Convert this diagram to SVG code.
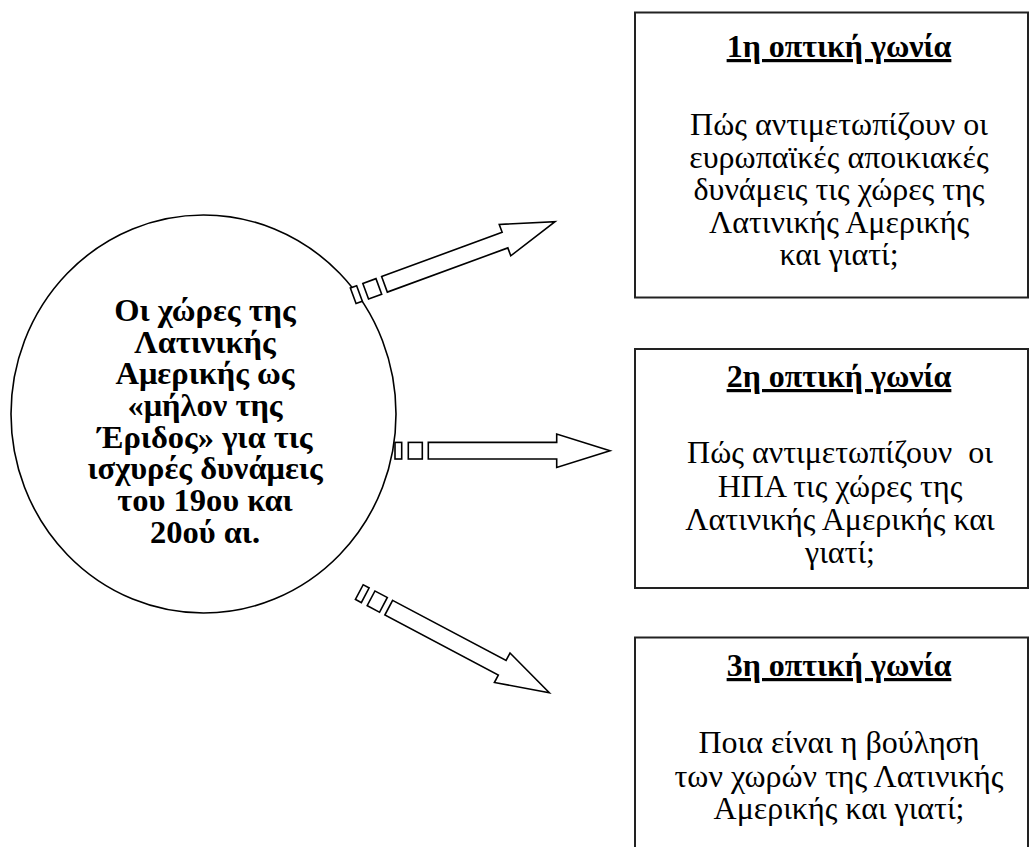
<svg xmlns="http://www.w3.org/2000/svg" width="1030" height="847" viewBox="0 0 1030 847">
<style>
.bg{fill:#fff}
.shape{fill:#fff;stroke:#000;stroke-width:1.6}
.box{fill:#fff;stroke:#222;stroke-width:2}
.t{font-family:"Liberation Serif","Times New Roman",serif;font-size:32px;fill:#000;text-anchor:middle}
.c{font-size:32.5px}
.b{font-weight:bold}
.u{text-decoration:underline}
</style>
<defs>
<g id="striped">
<rect class="shape" x="0" y="-8.3" width="6.7" height="16.6"/>
<rect class="shape" x="13.3" y="-8.3" width="14" height="16.6"/>
<path class="shape" d="M33.3,-8.3 L161.7,-8.3 L161.7,-16.7 L215,0 L161.7,16.7 L161.7,8.3 L33.3,8.3 Z"/>
</g>
</defs>
<rect class="bg" x="0" y="0" width="1030" height="847"/>
<g id="center">
<ellipse class="shape" cx="203.5" cy="414" rx="192.5" ry="199"/>
<text class="t c b"><tspan x="205" y="321">Οι χώρες της</tspan><tspan x="205" y="353">Λατινικής</tspan><tspan x="205" y="384">Αμερικής ως</tspan><tspan x="205" y="416">«μήλον της</tspan><tspan x="205" y="448">Έριδος» για τις</tspan><tspan x="205" y="479">ισχυρές δυνάμεις</tspan><tspan x="205" y="511">του 19ου και</tspan><tspan x="205" y="543">20ού αι.</tspan></text>
</g>
<g id="connectors">
<use href="#striped" transform="translate(353.2,295.8) rotate(-20.15)"/>
<use href="#striped" transform="translate(395,450.7)"/>
<use href="#striped" transform="translate(359.3,592.1) rotate(27.9)"/>
</g>
<g id="box1">
<rect class="box" x="635" y="12.5" width="393" height="285"/>
<text class="t b u" x="839" y="57">1η οπτική γωνία</text>
<text class="t"><tspan x="839" y="135">Πώς αντιμετωπίζουν οι</tspan><tspan x="839" y="168">ευρωπαϊκές αποικιακές</tspan><tspan x="839" y="200">δυνάμεις τις χώρες της</tspan><tspan x="839" y="233">Λατινικής Αμερικής</tspan><tspan x="839" y="265">και γιατί;</tspan></text>
</g>
<g id="box2">
<rect class="box" x="635" y="349" width="393" height="239"/>
<text class="t b u" x="839" y="387">2η οπτική γωνία</text>
<text class="t" xml:space="preserve"><tspan x="840" y="463">Πώς αντιμετωπίζουν  οι</tspan><tspan x="840" y="497">ΗΠΑ τις χώρες της</tspan><tspan x="840" y="530">Λατινικής Αμερικής και</tspan><tspan x="840" y="563">γιατί;</tspan></text>
</g>
<g id="box3">
<rect class="box" x="635" y="637.5" width="393" height="230"/>
<text class="t b u" x="839" y="676">3η οπτική γωνία</text>
<text class="t"><tspan x="839" y="753">Ποια είναι η βούληση</tspan><tspan x="839" y="787">των χωρών της Λατινικής</tspan><tspan x="839" y="819">Αμερικής και γιατί;</tspan></text>
</g>
</svg>
